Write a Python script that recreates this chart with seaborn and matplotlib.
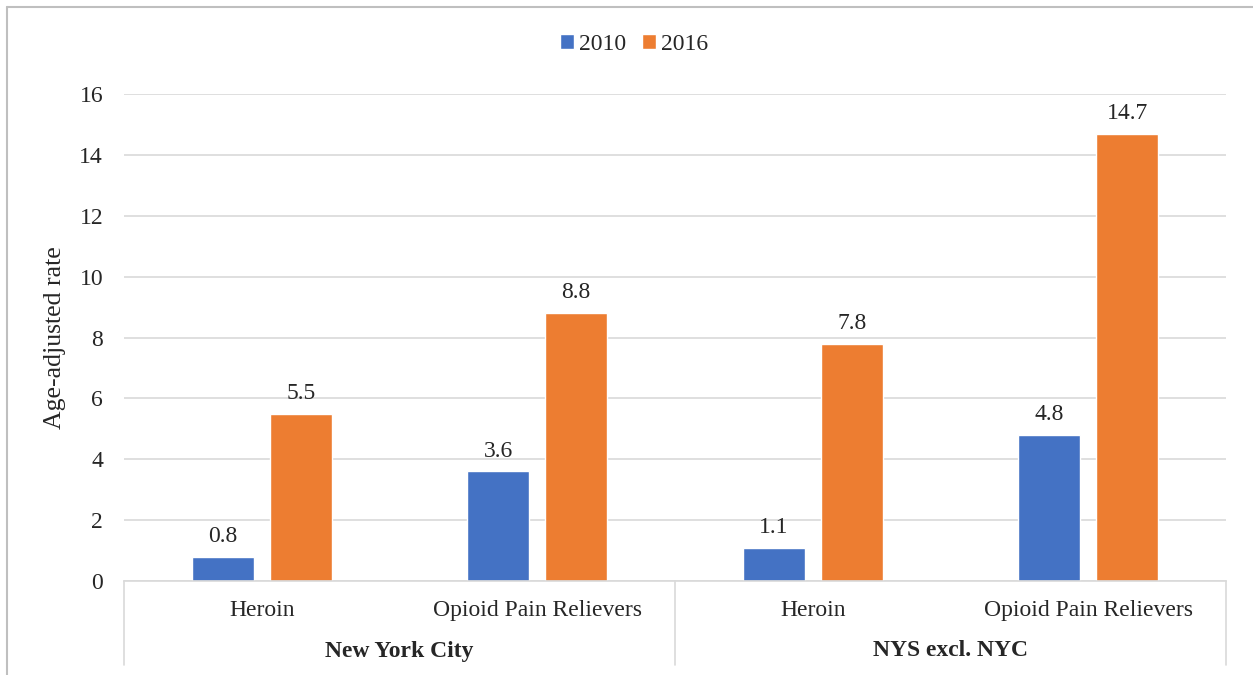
import pandas as pd
import matplotlib.pyplot as plt
import seaborn as sns
from matplotlib.lines import Line2D

regions = ['New York City', 'New York City', 'NYS excl. NYC', 'NYS excl. NYC']
drugs = ['Heroin', 'Opioid Pain Relievers', 'Heroin', 'Opioid Pain Relievers']
rate_2010 = [0.8, 3.6, 1.1, 4.8]
rate_2016 = [5.5, 8.8, 7.8, 14.7]
years = ['2010', '2016']
colors = ['#4472C4', '#ED7D31']

keys = [f'{r} | {d}' for r, d in zip(regions, drugs)]
df = pd.DataFrame({
    'key': keys * 2,
    'year': ['2010'] * 4 + ['2016'] * 4,
    'rate': rate_2010 + rate_2016,
})

sns.set_style('white')
plt.rcParams['font.family'] = ['Liberation Serif', 'DejaVu Serif']
FS = 17

fig = plt.figure(figsize=(12.53, 6.75), dpi=100)
ax = fig.add_axes([124 / 1253, 1 - 581 / 675, (1226 - 124) / 1253, (581 - 94) / 675])

sns.barplot(data=df, x='key', y='rate', hue='year', order=keys, hue_order=years,
            palette=colors, width=0.566, gap=0.205, saturation=1, ax=ax)

for c in ax.containers:
    ax.bar_label(c, fmt='%.1f', padding=7, fontsize=FS)

ax.set_ylim(0, 16)
ax.set_xlim(-0.5, 3.5)
ax.set_yticks(range(0, 17, 2))
ax.yaxis.grid(True, color='#D9D9D9', linewidth=1.2)
ax.set_axisbelow(True)
for s in ['top', 'right', 'left']:
    ax.spines[s].set_visible(False)
ax.spines['bottom'].set_color('#D9D9D9')
ax.spines['bottom'].set_linewidth(1.2)
ax.tick_params(axis='y', length=0, pad=15, labelsize=FS)
ax.tick_params(axis='x', length=0, pad=14, labelsize=FS)
ax.set_xticks(range(len(drugs)))
ax.set_xticklabels(drugs)
ax.set_xlabel('')
ax.set_ylabel('Age-adjusted rate', fontsize=18.5, labelpad=10)

# group separators and group labels under the axis
trans = ax.get_xaxis_transform()
for xb in [-0.5, 1.5, 3.5]:
    ax.add_line(Line2D([xb, xb], [0, -84 / 487], transform=trans, color='#D9D9D9',
                       linewidth=1.2, clip_on=False))
for i, name in enumerate(['New York City', 'NYS excl. NYC']):
    ax.text(2 * i + 0.5, -70 / 487, name, transform=trans, ha='center', va='center',
            fontsize=FS, fontweight='bold')

ax.legend(loc='center', bbox_to_anchor=(634 / 1253, 1 - 44 / 675),
          bbox_transform=fig.transFigure, ncol=2, frameon=False,
          fontsize=FS, handlelength=0.6, handleheight=0.6, handletextpad=0.2,
          columnspacing=0.7)

# outer chart border (left and top)
fig.add_artist(Line2D([7 / 1253, 7 / 1253], [0, 1 - 7 / 675], transform=fig.transFigure,
                      color='#BFBFBF', linewidth=1.5))
fig.add_artist(Line2D([7 / 1253, 1], [1 - 7 / 675, 1 - 7 / 675], transform=fig.transFigure,
                      color='#BFBFBF', linewidth=1.5))

plt.savefig('out.png', dpi=100)
